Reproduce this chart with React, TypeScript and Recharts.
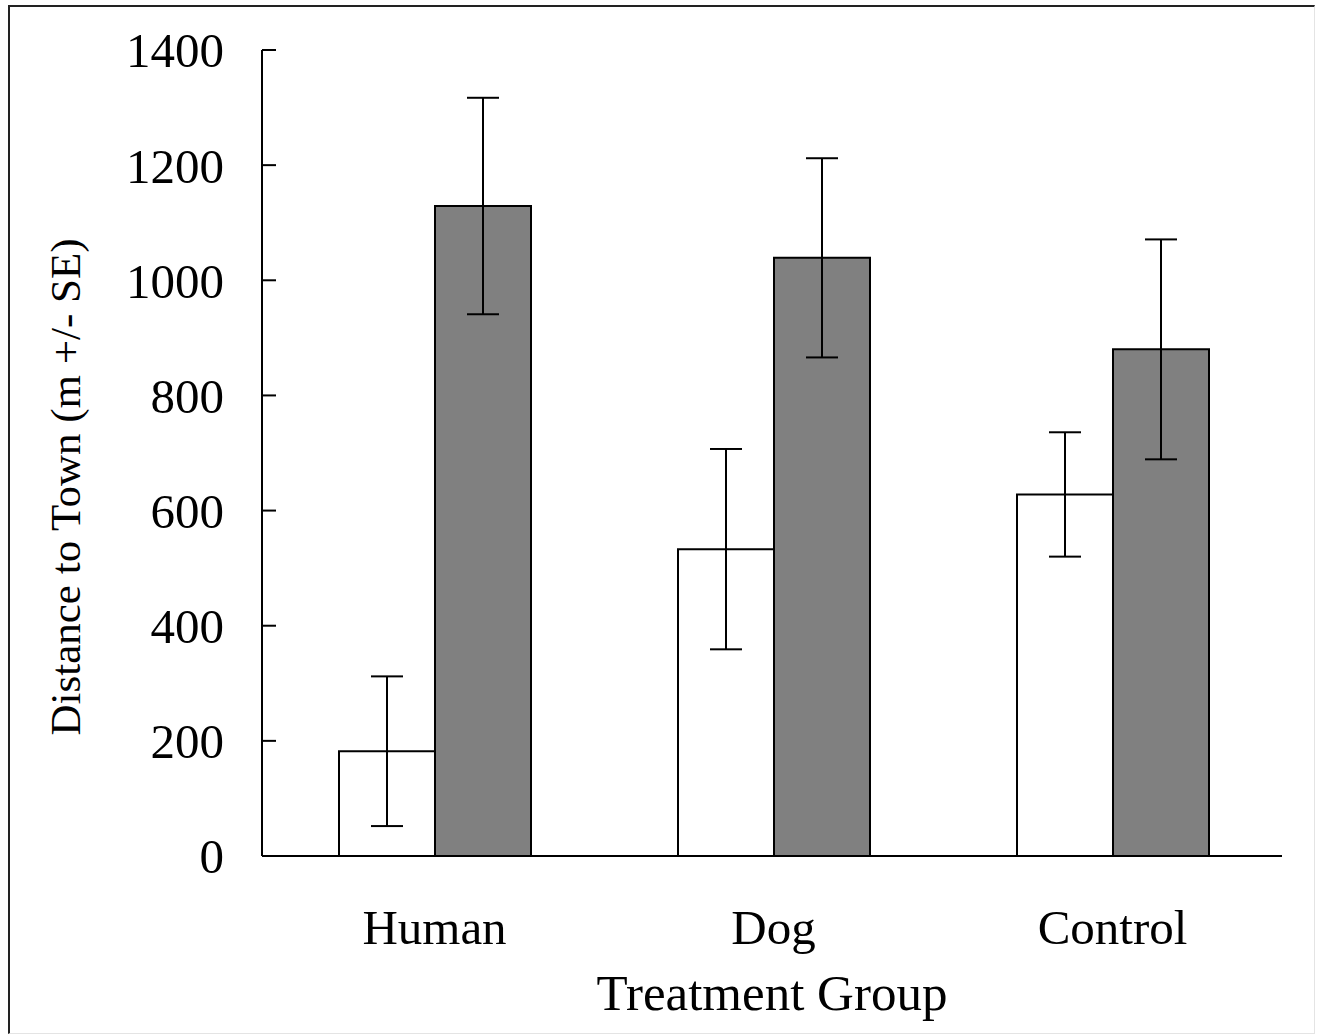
import React from 'react';
import { BarChart, Bar, XAxis, YAxis, ErrorBar, Label } from 'recharts';

const groups = ['Human', 'Dog', 'Control'];
const firstMeans = [182, 533, 628];
const firstErrors = [130, 174, 108];
const secondMeans = [1129, 1039, 880];
const secondErrors = [188, 173, 191];
const yTicks = [0, 200, 400, 600, 800, 1000, 1200, 1400];

const data = groups.map((g, i) => ({
  group: g,
  first: firstMeans[i],
  firstErr: firstErrors[i],
  second: secondMeans[i],
  secondErr: secondErrors[i],
}));

const font = '"Liberation Serif", "Times New Roman", serif';

const YLabel = (props: any) => {
  const { viewBox } = props;
  const x = viewBox.x + 70;
  const y = viewBox.y + viewBox.height / 2 + 34;
  return (
    <text
      x={x}
      y={y}
      transform={`rotate(-90, ${x}, ${y})`}
      textAnchor="middle"
      fontFamily={font}
      fontSize={43}
      fill="#000"
    >
      Distance to Town (m +/- SE)
    </text>
  );
};

const App: React.FC = () => {
  return (
    <div style={{ position: 'absolute', left: 0, top: 0, width: 1325, height: 1035, background: '#fff' }}>
      <div
        style={{
          position: 'absolute',
          left: 8,
          top: 5,
          width: 1304,
          height: 1026,
          borderLeft: '2px solid #222',
          borderTop: '2px solid #222',
          borderRight: '1px solid #e4e4e4',
          borderBottom: '1px solid #e4e4e4',
        }}
      />
      <div style={{ position: 'absolute', left: 0, top: 0 }}>
        <BarChart
          width={1325}
          height={1035}
          data={data}
          margin={{ top: 50, right: 43, bottom: 10, left: 10 }}
          barCategoryGap={74}
          barGap={0}
        >
          <XAxis
            dataKey="group"
            height={169}
            padding={{ left: 3, right: 0 }}
            tickLine={false}
            tickSize={0}
            tickMargin={53}
            axisLine={{ stroke: '#000', strokeWidth: 2 }}
            tick={{ fontFamily: font, fontSize: 49, fill: '#000' }}
          >
            <Label
              value="Treatment Group"
              position="insideBottom"
              offset={15}
              style={{ fontFamily: font, fontSize: 51, fill: '#000' }}
            />
          </XAxis>
          <YAxis
            width={252}
            domain={[0, 1400]}
            ticks={yTicks}
            interval={0}
            tickSize={-14}
            tickMargin={52}
            axisLine={{ stroke: '#000', strokeWidth: 2 }}
            tickLine={{ stroke: '#000', strokeWidth: 2 }}
            tick={{ fontFamily: font, fontSize: 49, fill: '#000' }}
          >
            <Label content={YLabel} />
          </YAxis>
          <Bar dataKey="first" fill="#ffffff" stroke="#000" strokeWidth={2} isAnimationActive={false}>
            <ErrorBar dataKey="firstErr" width={16} stroke="#000" strokeWidth={2} isAnimationActive={false} />
          </Bar>
          <Bar dataKey="second" fill="#808080" stroke="#000" strokeWidth={2} isAnimationActive={false}>
            <ErrorBar dataKey="secondErr" width={16} stroke="#000" strokeWidth={2} isAnimationActive={false} />
          </Bar>
        </BarChart>
      </div>
    </div>
  );
};

export default App;
